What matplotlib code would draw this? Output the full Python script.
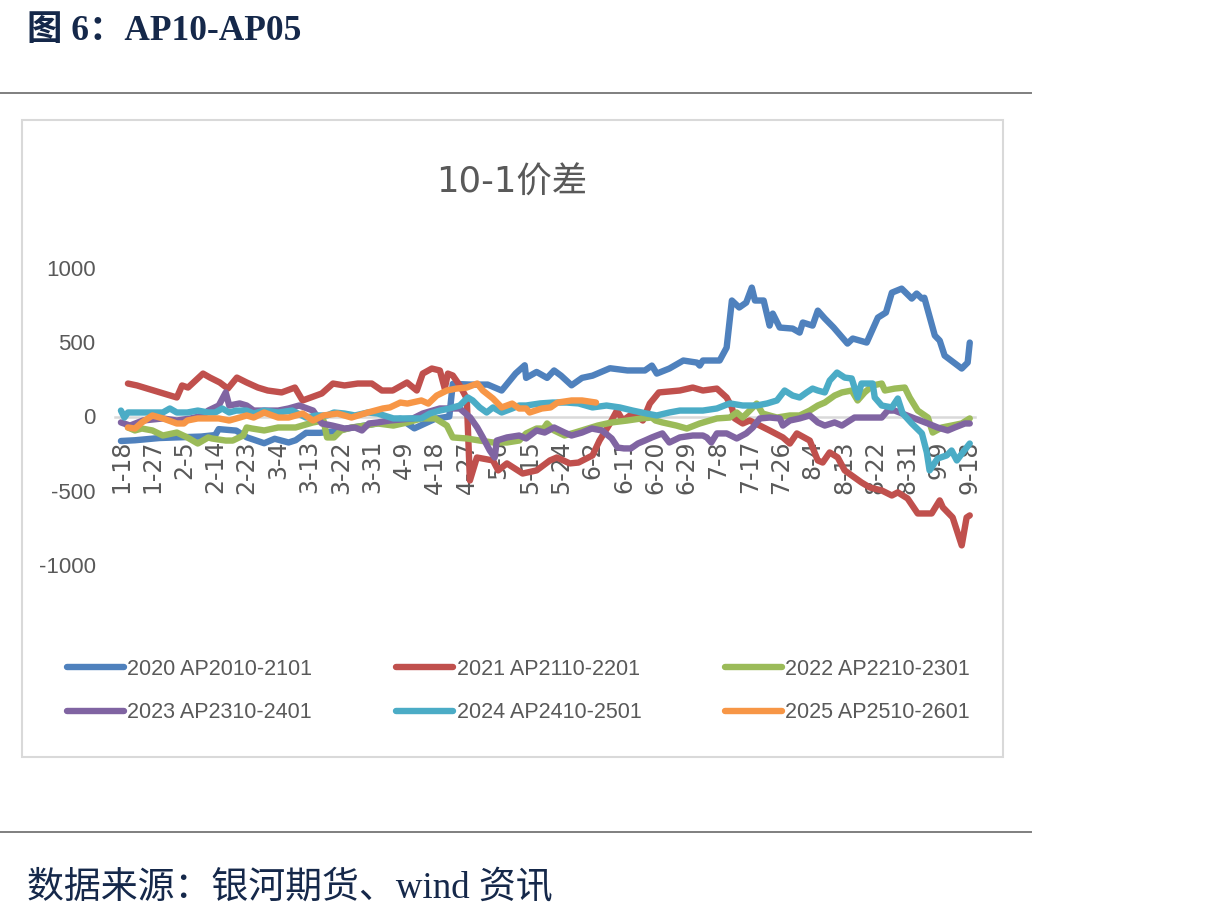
import matplotlib.pyplot as plt
from matplotlib.patches import Rectangle
from matplotlib.lines import Line2D

# 日期轴：从1-18起的天数，每9天一个标签
xlabels = ['1-18', '1-27', '2-5', '2-14', '2-23', '3-4', '3-13', '3-22', '3-31', '4-9',
           '4-18', '4-27', '5-6', '5-15', '5-24', '6-2', '6-11', '6-20', '6-29', '7-8',
           '7-17', '7-26', '8-4', '8-13', '8-22', '8-31', '9-9', '9-18']
xticks = [9 * i for i in range(len(xlabels))]

names = ['2020 AP2010-2101', '2021 AP2110-2201', '2022 AP2210-2301',
         '2023 AP2310-2401', '2024 AP2410-2501', '2025 AP2510-2601']
colors = ['#4F81BD', '#C0504D', '#9BBB59', '#8064A2', '#4BACC6', '#F79646']

# (天数, 价差)
s2020 = [(0,-165),(4,-160),(11,-145),(23,-135),(27,-125),(28,-85),(33,-95),(36,-140),(41,-180),(44,-150),
         (48,-175),(50,-160),(53,-110),(57,-110),(61,-100),(65,-80),(70,-60),(75,-40),(80,-15),(84,-80),
         (90,-15),(94,0),(95,220),(100,215),(105,215),(109,175),(113,290),(115.6,345),(116,260),(119,300),
         (122,260),(124,310),(126,275),(129,210),(132,260),(135,275),(140,325),(145,310),(150,310),(152,343),
         (153.4,289),(157,323),(161,377),(164.9,363),(165.7,343),(166.6,377),(171.4,377),(173.4,464),(174.9,781),
         (177,734),(179,767),(180.6,868),(181.5,781),(184,781),(185.7,612),(186.6,693),(188.6,599),(192.3,592),
         (194.3,565),(195.2,633),(198,612),(199.5,713),(201.5,660),(204,600),(208,491),(209.5,525),(213.5,498),
         (216.7,666),(219,700),(220.7,834),(223.5,861),(226.4,794),(227.8,828),(229.3,794),(230,800),(233,545),
         (234.4,511),(235.8,410),(240.7,323),(242.4,363),(243,498)]
s2021 = [(2,222),(4.6,209),(16,128),(17.5,209),(19.2,195),(23.5,289),(25.5,262),(28.3,229),(30.6,188),(33.2,262),
         (36,229),(39.2,195),(42,175),(46,162),(49.8,195),(52,108),(57.5,155),(60.7,222),(64,209),(67.8,222),
         (71.8,222),(74.7,175),(77.8,175),(81.9,229),(84.7,175),(86.4,289),(89,323),(91.3,310),(92.7,188),(93.6,289),
         (95,276),(97,209),(99,121),(99.9,-431),(101.9,-276),(106.5,-296),(108,-363),(110.5,-316),(115,-384),(119,-363),
         (122.8,-296),(124.8,-276),(128.5,-316),(131,-310),(135,-262),(137,-162),(140,-47),(142,40),(143.7,-27),(146.5,20),
         (149.4,-27),(151.4,87),(154,162),(160,175),(163.7,195),(166.6,175),(170.6,188),(173.4,128),(174.9,61),(175.7,-13),
         (178,-47),(180,-27),(182.9,-61),(185.7,-94),(189.5,-141),(191.5,-182),(193.5,-114),(197.2,-162),(199.5,-296),
         (200.9,-310),(202.9,-242),(205.2,-276),(207.2,-363),(209.2,-397),(212,-444),(214.4,-478),(217.8,-498),
         (220.7,-532),(222.4,-511),(225.2,-552),(228.1,-653),(232.1,-653),(234.4,-565),(235.3,-612),(238.1,-680),
         (240.7,-868),(242.1,-680),(243,-666)]
s2022 = [(2,-74),(4,-94),(6,-81),(9,-94),(12,-128),(16,-108),(19,-141),(22,-182),(25,-141),(26,-148),
         (30,-162),(32,-162),(35,-128),(36,-74),(37.5,-81),(41,-94),(45,-74),(50,-74),(55,-40),(58,-27),
         (59,-141),(61,-141),(63,-94),(66,-74),(70,-61),(73.5,-47),(78,-61),(82,-40),(86,-13),(90,-13),
         (93.3,-61),(95,-141),(99,-148),(102.7,-162),(106.5,-175),(110.5,-175),(114,-162),(116,-114),(119,-81),
         (121,-81),(122,-47),(124,-94),(127,-128),(130,-108),(136.5,-61),(140.5,-40),(145,-27),(149,-13),(152,-7),
         (153,-27),(155,-40),(159,-61),(162,-81),(165.7,-47),(170.6,-13),(174.3,-7),(176.3,27),(178,-7),(180,40),
         (182,87),(183.7,20),(187.8,-7),(191.5,7),(194.3,7),(197.2,40),(199.5,74),(201.5,94),(204.3,141),(206.4,162),
         (209.2,175),(210.9,108),(212.9,162),(215.2,209),(217.8,222),(218.7,175),(221.5,188),(224.4,195),(225.8,128),
         (228.1,40),(231,-7),(232.4,-108),(235,-74),(237.8,-61),(240.7,-47),(243,-13)]
s2023 = [(0,-40),(2.6,-61),(6.3,-27),(12,-13),(16,-27),(20,-13),(23.5,7),(25,40),(28,74),(30,162),
         (31,74),(34,88),(36,74),(38,40),(45,40),(48,54),(51,74),(55,40),(57.5,-47),(60.5,-61),
         (64,-81),(67,-74),(69,-94),(71,-47),(73.5,-40),(77,-27),(83.6,-13),(86.4,20),(91.3,54),(94,54),
         (97,54),(100,-7),(102,-74),(103.6,-141),(105.6,-229),(107,-276),(107.6,-162),(110.5,-141),(114,-128),
         (116,-148),(119,-94),(121.3,-108),(124,-74),(127,-108),(129,-128),(132,-108),(134.8,-81),(137.7,-94),
         (140.5,-148),(142.2,-209),(144,-215),(146,-215),(148,-182),(150,-162),(152,-141),(153.4,-128),(155,-114),
         (157,-175),(160,-141),(163.7,-128),(166.6,-128),(167.7,-141),(169,-175),(170.6,-114),(173.4,-114),
         (176.3,-148),(179,-114),(180.9,-74),(182.9,-13),(185.7,-7),(188.6,-13),(189.5,-61),(191.5,-27),(194.3,-13),
         (197.2,7),(199.5,-40),(201.5,-61),(204.3,-40),(206.4,-61),(210,-7),(217.8,-7),(219.5,40),(221.5,40),
         (227.2,-13),(231,-47),(233.8,-74),(236.7,-94),(238.7,-74),(241.6,-47),(243,-47)]
s2024 = [(0,40),(1,-7),(2,27),(4,27),(9,27),(12,27),(14,54),(16,27),(19,27),(22,40),
         (25,27),(27,27),(29,54),(31,27),(33,40),(36,40),(38,20),(41,40),(45,27),(49,40),
         (53,-7),(56,7),(59,7),(61,27),(64,20),(67,7),(70.7,27),(73.5,20),(78,-13),(82,-13),
         (86,-13),(88.4,20),(91.3,40),(94,54),(97,74),(99.3,128),(100.7,108),(102.7,61),(104.7,27),(106.5,61),
         (109,27),(112,54),(114,74),(116,74),(120,88),(123.6,94),(127.6,94),(131,88),(135,61),(139,74),
         (142.8,61),(146.5,40),(150.5,20),(153.4,7),(157,27),(160,40),(163,40),(166.6,40),(170.6,54),(174.3,88),
         (178,74),(182,74),(185,88),(187.8,108),(190,175),(192.3,141),(194.3,128),(196.3,162),(198,188),(199.5,175),
         (201.5,162),(202.9,242),(205,296),(207.2,262),(209.2,256),(210.9,128),(212,222),(215.2,222),(215.8,128),
         (217.8,74),(220.7,61),(222.4,121),(223.8,20),(226.4,-47),(229.3,-114),(230.7,-242),(231.5,-363),
         (233.8,-283),(236.4,-262),(237.8,-229),(239.3,-296),(241,-242),(243,-182)]
s2025 = [(2,-74),(4,-81),(6,-40),(9,7),(12,-13),(16,-47),(18,-47),(19,-27),(22,-13),(25,-13),
         (28,-13),(31,-27),(34,-7),(36,7),(38,-7),(41,27),(45,-7),(48,-7),(52,20),(55,-27),
         (58,7),(62,20),(66,-7),(70.7,27),(75,54),(77,61),(80,94),(82,87),(86,108),(88,87),
         (90.4,141),(93.3,175),(96,188),(99,195),(102,222),(103.6,175),(106.5,121),(109,61),(112,87),(114,54),
         (116,54),(117,27),(120.5,54),(123,61),(125,94),(129,108),(132,108),(136,94)]
series = [s2020, s2021, s2022, s2023, s2024, s2025]

sans = 'Liberation Sans'
gray = '#595959'
navy = '#15284a'

fig = plt.figure(figsize=(12.31, 9.17), dpi=100)
ax = fig.add_axes([115/1231, 1-565/917, 860/1231, 297/917])

lines = []
for name, data, c in zip(names, series, colors):
    d = [p[0] for p in data]
    v = [p[1] for p in data]
    ln, = ax.plot(d, v, color=c, lw=4.6, label=name, zorder=3,
                  solid_joinstyle='round', solid_capstyle='round')
    lines.append(ln)

# 先把横轴放到0处，再设刻度标签（set_position会重置刻度）
for s in ['left', 'right', 'top']:
    ax.spines[s].set_visible(False)
ax.spines['bottom'].set_position(('data', 0))
ax.spines['bottom'].set_color('#d9d9d9')
ax.spines['bottom'].set_linewidth(1.8)
ax.patch.set_alpha(0)

ax.set_xlim(-1.7, 244.5)
ax.set_ylim(-1000, 1000)
ax.set_yticks([1000, 500, 0, -500, -1000])
ax.set_yticklabels(['1000', '500', '0', '-500', '-1000'], family=sans, fontsize=16, color=gray)
ax.set_xticks(xticks)
ax.set_xticklabels(xlabels, rotation=90, family='DejaVu Sans', fontsize=17, color=gray)
ax.tick_params(axis='y', length=0, pad=14)
ax.tick_params(axis='x', length=0, pad=17)

order = [0, 3, 1, 4, 2, 5]
fig.legend([lines[i] for i in order], [names[i] for i in order], ncol=3,
           loc='center left', bbox_to_anchor=(67/1231, 1-691/917), frameon=False,
           prop={'family': sans, 'size': 15.5}, labelcolor=gray,
           handlelength=2.65, handletextpad=0.15, columnspacing=3.9,
           labelspacing=1.05, borderpad=0, borderaxespad=0)

fig.text(512/1231, 1-183/917, '10-1价差', ha='center', va='center', fontsize=25.5,
         color=gray, family=['DejaVu Sans', 'Noto Sans CJK SC'])

# 图框与上下分隔线
fig.add_artist(Rectangle((22/1231, 1-757/917), 981/1231, 637/917, transform=fig.transFigure,
                         fill=False, edgecolor='#d9d9d9', lw=1.5))
fig.add_artist(Line2D([0, 1031/1231], [1-93/917, 1-93/917], color='#7f7f7f', lw=1.4))
fig.add_artist(Line2D([0, 1031/1231], [1-832/917, 1-832/917], color='#7f7f7f', lw=1.4))

fig.text(27/1231, 1-40/917, '图 6：AP10-AP05', ha='left', va='baseline', fontsize=25.5,
         color=navy, weight='bold', family=['Liberation Serif', 'Noto Sans CJK SC'])
fig.text(27/1231, 1-898/917, '数据来源：银河期货、wind 资讯', ha='left', va='baseline',
         fontsize=26.6, color=navy, family=['Liberation Serif', 'Noto Sans CJK SC'])

fig.savefig('out.png', dpi=100)
